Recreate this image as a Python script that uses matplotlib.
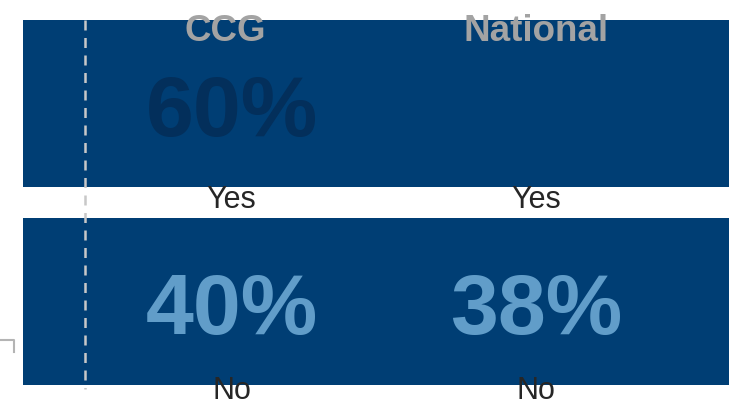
import matplotlib
matplotlib.use("Agg")
import matplotlib.pyplot as plt
from matplotlib.lines import Line2D

plt.rcParams['font.family'] = ['Liberation Sans', 'DejaVu Sans']

# ---- data ----
columns = ["CCG", "National"]
answers = ["Yes", "No"]
yes_values = [60, 62]
no_values = [40, 38]

BAND = "#003e74"
DARK_TEXT = "#032f5b"
LIGHT_TEXT = "#619dc9"
HEADER = "#a3a3a3"
LABEL = "#262626"

W, H = 729, 403
fig = plt.figure(figsize=(W / 100, H / 100), dpi=100)
ax = fig.add_axes([23 / W, 1 - 400.5 / H, 1 - 23 / W, 396 / H])

col_sp = 304.5
x0 = (23 - 231.5) / col_sp
x1 = (729 - 231.5) / col_sp
ax.set_xlim(x0, x1)
ax.set_ylim(1.5, -0.5)
ax.axis("off")

rows = list(range(len(answers)))
band_h = 167 / 198
ax.barh(rows, [x1 - x0] * len(rows), left=x0, height=band_h, color=BAND, zorder=1)

# dashed separator
ax.plot([-0.48, -0.48], [-band_h / 2, 1.44], color="#c8c8c8", lw=1.8,
        ls=(0, (4, 3)), zorder=2)

values = [yes_values, no_values]
colors = [[DARK_TEXT, BAND], [LIGHT_TEXT, LIGHT_TEXT]]
label_off = [0.528, 0.492]
for r, ans in enumerate(answers):
    for c, col in enumerate(columns):
        ax.text(c, r + 0.164, f"{values[r][c]}%", ha="center", va="baseline",
                fontsize=62, fontweight="bold", color=colors[r][c], zorder=3)
        ax.text(c, r + label_off[r], ans, ha="center", va="baseline",
                fontsize=22, color=LABEL, zorder=3)

for c, col in enumerate(columns):
    ax.text(c - 0.02 * (c == 0), -0.316, col, ha="center", va="baseline", fontsize=26.5,
            fontweight="bold", color=HEADER, zorder=3)

# small bracket mark at left
fig.add_artist(Line2D([0, 14 / W, 14 / W], [1 - 340 / H, 1 - 340 / H, 1 - 352 / H],
                      color="#b4b4b4", lw=1.5))

fig.savefig("out.png", dpi=100)
